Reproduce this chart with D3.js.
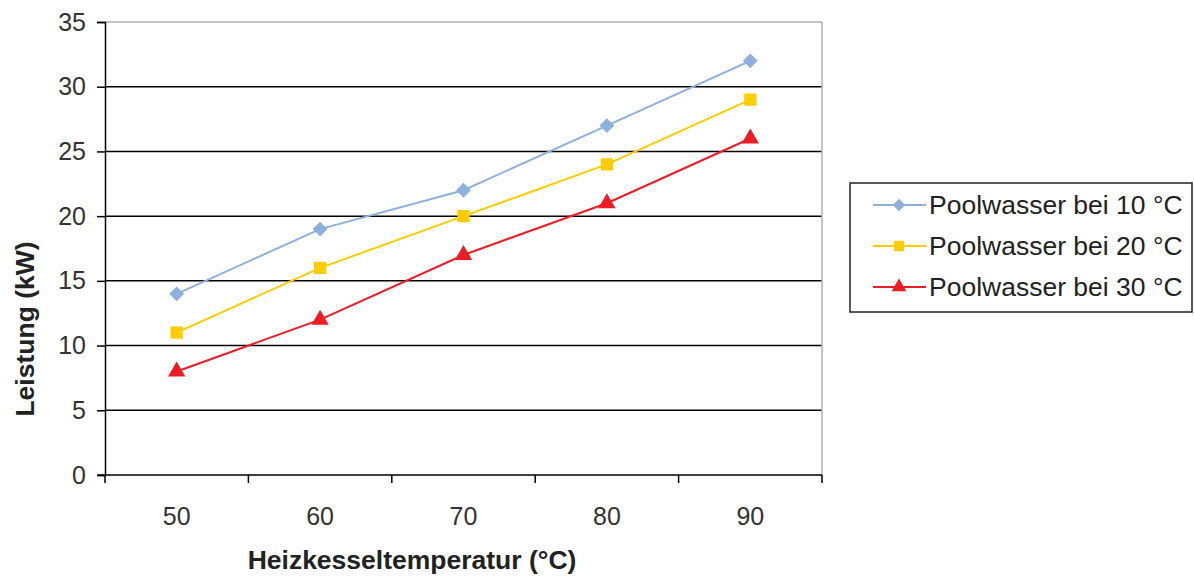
<!DOCTYPE html>
<html><head><meta charset="utf-8">
<script src="https://cdn.jsdelivr.net/npm/d3@7"></script>
<style>body{margin:0;background:#fff}svg{display:block}</style>
</head><body>
<svg id="c" width="1194" height="576"></svg>
<script>
const categories = ["50", "60", "70", "80", "90"];
const yTicks = [0, 5, 10, 15, 20, 25, 30, 35];
const seriesNames = ["Poolwasser bei 10 °C", "Poolwasser bei 20 °C", "Poolwasser bei 30 °C"];
const series10 = [14, 19, 22, 27, 32];
const series20 = [11, 16, 20, 24, 29];
const series30 = [8, 12, 17, 21, 26];
const colors = ["#8eb0de", "#ffcc00", "#ee1c25"];
const allSeries = [series10, series20, series30];

const svg = d3.select("#c");
const L = 105, R = 822, T = 22, B = 475;
const FONT = "Liberation Sans, Arial, Helvetica, sans-serif";
const x = d3.scaleBand().domain(categories).range([L, R]);
const y = d3.scaleLinear().domain([0, 35]).range([B, T]);

// marker shapes: diamond = rotated square
const markerPath = [
  d3.symbol(d3.symbolSquare, 110)(),
  d3.symbol(d3.symbolSquare, 150)(),
  d3.symbol(d3.symbolTriangle, 130)()
];
const markerRot = [45, 0, 0];

// gridlines
svg.append("g").selectAll("line").data(yTicks.filter(d => d > 0 && d < 35)).join("line")
  .attr("x1", L).attr("x2", R).attr("y1", d => y(d)).attr("y2", d => y(d))
  .attr("stroke", "#000").attr("stroke-width", 1.5);
// top & right border
svg.append("line").attr("x1", L).attr("x2", R).attr("y1", y(35)).attr("y2", y(35)).attr("stroke", "#b0b0b0").attr("stroke-width", 1.5);
svg.append("line").attr("x1", R).attr("x2", R).attr("y1", T).attr("y2", B).attr("stroke", "#b0b0b0").attr("stroke-width", 1.5);

// y axis
const yAxis = svg.append("g").attr("transform", `translate(${L},0)`)
  .call(d3.axisLeft(y).tickValues(yTicks).tickSize(8).tickPadding(11));
yAxis.select(".domain").attr("stroke", "#000").attr("stroke-width", 1.5);
yAxis.selectAll(".tick line").attr("stroke", "#000").attr("stroke-width", 1.5);
yAxis.selectAll(".tick text").attr("font-family", FONT).attr("font-size", 25).attr("fill", "#333");

// x axis with ticks at band boundaries
const xAxis = svg.append("g").attr("transform", `translate(0,${B})`);
xAxis.append("line").attr("x1", L - 7).attr("x2", R).attr("stroke", "#000").attr("stroke-width", 1.5);
const bounds = categories.map(c => x(c)).concat([R]);
xAxis.selectAll("line.tk").data(bounds).join("line").attr("class", "tk")
  .attr("x1", d => d).attr("x2", d => d).attr("y1", 0).attr("y2", 8)
  .attr("stroke", "#000").attr("stroke-width", 1.5);
xAxis.selectAll("text").data(categories).join("text")
  .attr("x", d => x(d) + x.bandwidth() / 2).attr("y", 50)
  .attr("text-anchor", "middle").attr("font-family", FONT)
  .attr("font-size", 25).attr("fill", "#333").text(d => d);

// axis titles
svg.append("text").attr("x", 412).attr("y", 569).attr("text-anchor", "middle")
  .attr("font-family", FONT).attr("font-weight", "bold")
  .attr("font-size", 26.5).attr("fill", "#222").text("Heizkesseltemperatur (°C)");
svg.append("text").attr("transform", `translate(34,329) rotate(-90)`).attr("text-anchor", "middle")
  .attr("font-family", FONT).attr("font-weight", "bold")
  .attr("font-size", 26.5).attr("fill", "#222").text("Leistung (kW)");

// series
const cx = i => x(categories[i]) + x.bandwidth() / 2;
const line = d3.line().x((d, i) => cx(i)).y(d => y(d));
allSeries.forEach((s, k) => {
  svg.append("path").datum(s).attr("d", line).attr("fill", "none")
    .attr("stroke", colors[k]).attr("stroke-width", 2);
  svg.append("g").selectAll("path").data(s).join("path")
    .attr("transform", (d, i) => `translate(${cx(i)},${y(d)}) rotate(${markerRot[k]})`)
    .attr("d", markerPath[k]).attr("fill", colors[k]);
});

// legend
const lg = svg.append("g");
lg.append("rect").attr("x", 850).attr("y", 183).attr("width", 342).attr("height", 129)
  .attr("fill", "#fff").attr("stroke", "#222").attr("stroke-width", 1.5);
seriesNames.forEach((n, k) => {
  const ly = 205 + k * 41;
  lg.append("line").attr("x1", 873).attr("x2", 926).attr("y1", ly).attr("y2", ly)
    .attr("stroke", colors[k]).attr("stroke-width", 2);
  lg.append("path").attr("transform", `translate(899,${ly}) rotate(${markerRot[k]}) scale(0.85)`)
    .attr("d", markerPath[k]).attr("fill", colors[k]);
  lg.append("text").attr("x", 929).attr("y", ly + 9).attr("font-family", FONT)
    .attr("font-size", 26.5).attr("fill", "#222").text(n);
});
</script>
</body></html>
